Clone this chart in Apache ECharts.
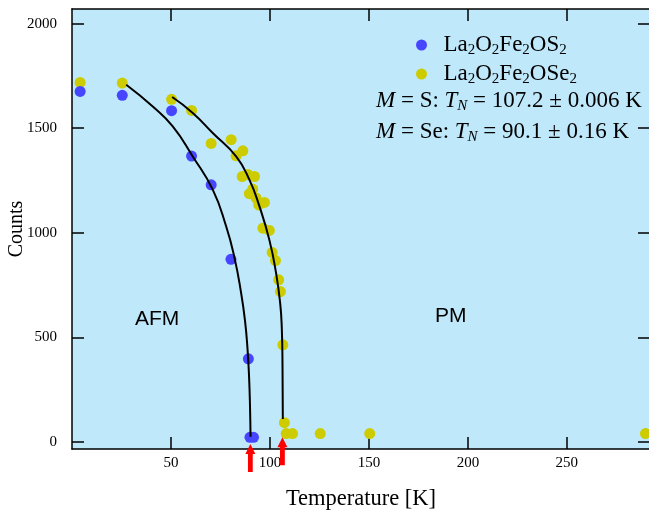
<!DOCTYPE html>
<html><head><meta charset="utf-8">
<script src="https://cdn.jsdelivr.net/npm/echarts@6/dist/echarts.min.js"></script>
<style>html,body{margin:0;padding:0;background:#fff}#c{width:649px;height:516px}</style>
</head><body><div id="c"></div>
<script>
// ---- data ----
const xTicks = [50, 100, 150, 200, 250];
const yTicks = [0, 500, 1000, 1500, 2000];
const sName = 'La2O2Fe2OS2';
const seName = 'La2O2Fe2OSe2';
const sT = [4.1, 25.4, 50.3, 60.4, 70.3, 80.3, 89.1, 89.9, 91.7];
const sC = [1676, 1657, 1584, 1367, 1229, 873, 397, 22, 22];
const seT = [4.1, 25.4, 50.3, 60.4, 70.3, 80.4, 82.9, 86.3, 86.0, 88.8, 92.2, 91.3, 89.6, 93.0, 94.3, 97.2, 96.4, 99.7, 101.1, 102.8, 104.4, 105.3, 106.5, 107.3, 108.2, 111.4, 125.4, 150.4, 289.7];
const seC = [1719, 1716, 1638, 1585, 1427, 1445, 1368, 1392, 1269, 1279, 1269, 1209, 1187, 1166, 1133, 1145, 1022, 1011, 906, 867, 775, 719, 464, 92, 40, 40, 40, 40, 40];
const fitST = [27.4, 40.8, 50.9, 61.0, 71.1, 77.9, 82.1, 85.3, 87.4, 88.7, 89.5, 89.95, 90.2];
const fitSC = [1708, 1604, 1509, 1365, 1206, 1030, 880, 720, 580, 440, 300, 160, 25];
const fitSeT = [50.6, 61.0, 71.1, 82.9, 89.6, 94.7, 99.7, 103.1, 105.2, 106.0, 106.35, 106.5];
const fitSeC = [1649, 1573, 1477, 1365, 1254, 1126, 966, 807, 660, 540, 360, 109];
const arrowT = [90.1, 106.3];
const arrowTipC = [-10, 22];
const xMin = 0, xMax = 292, yMin = -34, yMax = 2070;

const zip = (a, b) => a.map((v, i) => [v, b[i]]);
const serif = 'Liberation Serif';
const BLUE = '#4646ff', YEL = '#cccc00';

const axisLineStyle = { color: '#000', width: 1.5 };
const tickStyle = { show: true, inside: true, length: 12, lineStyle: { color: '#000', width: 1.5 } };

const chart = echarts.init(document.getElementById('c'), null, { renderer: 'canvas' });
const legendRich = {
  n: { fontFamily: serif, fontSize: 23, color: '#000', lineHeight: 26 },
  s: { fontFamily: serif, fontSize: 15, color: '#000', lineHeight: 15, padding: [11, 0, 0, 0] }
};
const formula = {};
formula[sName] = '{n|La}{s|2}{n|O}{s|2}{n|Fe}{s|2}{n|OS}{s|2}';
formula[seName] = '{n|La}{s|2}{n|O}{s|2}{n|Fe}{s|2}{n|OSe}{s|2}';
const tnRich = {
  n: { fontFamily: serif, fontSize: 23, fill: '#000', lineHeight: 26 },
  i: { fontFamily: serif, fontSize: 23, fontStyle: 'italic', fill: '#000', lineHeight: 26 },
  si: { fontFamily: serif, fontSize: 15, fontStyle: 'italic', fill: '#000', lineHeight: 15, padding: [11, 0, 0, 0] }
};
const plain = v => String(v);

chart.setOption({
  animation: false,
  backgroundColor: '#fff',
  grid: { left: 72, right: -1, top: 9, bottom: 67, containLabel: false, outerBoundsMode: 'none',
          show: true, backgroundColor: '#bfe9fb', borderWidth: 0 },
  xAxis: [{
    type: 'value', min: xMin, max: xMax, position: 'bottom',
    name: 'Temperature [K]', nameLocation: 'middle', nameGap: 39, nameMoveOverlap: false,
    nameTextStyle: { fontFamily: serif, fontSize: 22.5, color: '#000' },
    axisLine: { show: true, onZero: false, lineStyle: axisLineStyle },
    axisTick: Object.assign({ customValues: xTicks }, tickStyle),
    axisLabel: { customValues: xTicks, formatter: plain, fontFamily: serif, fontSize: 15, color: '#000', margin: 7 },
    splitLine: { show: false }
  }, {
    type: 'value', min: xMin, max: xMax, position: 'top',
    axisLine: { show: true, onZero: false, lineStyle: axisLineStyle },
    axisTick: Object.assign({ customValues: xTicks }, tickStyle),
    axisLabel: { show: false }, splitLine: { show: false }
  }],
  yAxis: [{
    type: 'value', min: yMin, max: yMax, position: 'left',
    name: 'Counts', nameLocation: 'middle', nameGap: 45, nameRotate: 90, nameMoveOverlap: false,
    nameTextStyle: { fontFamily: serif, fontSize: 20, color: '#000' },
    axisLine: { show: true, onZero: false, lineStyle: axisLineStyle },
    axisTick: Object.assign({ customValues: yTicks }, tickStyle),
    axisLabel: { customValues: yTicks, formatter: plain, fontFamily: serif, fontSize: 15, color: '#000', margin: 15 },
    splitLine: { show: false }
  }, {
    type: 'value', min: yMin, max: yMax, position: 'right',
    axisLine: { show: true, onZero: false, lineStyle: axisLineStyle },
    axisTick: Object.assign({ customValues: yTicks }, tickStyle),
    axisLabel: { show: false }, splitLine: { show: false }
  }],
  legend: {
    data: [sName, seName], orient: 'vertical', left: 411, top: 27,
    icon: 'circle', itemWidth: 34, itemHeight: 11, itemGap: 3,
    formatter: name => formula[name],
    textStyle: { rich: legendRich, padding: 0 }
  },
  graphic: [
    { type: 'text', left: 376, top: 88, style: { text: '{i|M}{n| = S: }{i|T}{si|N}{n| = 107.2 ± 0.006 K}', rich: tnRich } },
    { type: 'text', left: 376, top: 119, style: { text: '{i|M}{n| = Se: }{i|T}{si|N}{n| = 90.1 ± 0.16 K}', rich: tnRich } },
    { type: 'text', left: 135, top: 309, style: { text: 'AFM', fontFamily: 'Liberation Sans', fontSize: 21, fill: '#000' } },
    { type: 'text', left: 435, top: 306, style: { text: 'PM', fontFamily: 'Liberation Sans', fontSize: 21, fill: '#000' } }
  ],
  series: [
    { name: seName, type: 'scatter', data: zip(seT, seC), symbol: 'circle', symbolSize: 11, itemStyle: { color: YEL, opacity: 1 }, z: 2 },
    { name: sName, type: 'scatter', data: zip(sT, sC), symbol: 'circle', symbolSize: 11, itemStyle: { color: BLUE, opacity: 1 }, z: 3 },
    { name: 'fitS', type: 'line', data: zip(fitST, fitSC), smooth: 0.5, showSymbol: false, lineStyle: { color: '#000', width: 2 }, z: 4, silent: true },
    { name: 'fitSe', type: 'line', data: zip(fitSeT, fitSeC), smooth: 0.5, showSymbol: false, lineStyle: { color: '#000', width: 2 }, z: 4, silent: true },
    { name: 'arrows', type: 'custom', clip: false, z: 10, silent: true,
      data: zip(arrowT, arrowTipC),
      renderItem: (params, api) => {
        const p = api.coord([api.value(0), api.value(1)]);
        const L = 28, hw = 5, hl = 10, sw = 2.4;
        return { type: 'polygon', shape: { points: [
          [p[0], p[1]], [p[0] + hw, p[1] + hl], [p[0] + sw, p[1] + hl], [p[0] + sw, p[1] + L],
          [p[0] - sw, p[1] + L], [p[0] - sw, p[1] + hl], [p[0] - hw, p[1] + hl]] },
          style: { fill: '#ff0000' } };
      } }
  ]
});
</script></body></html>
